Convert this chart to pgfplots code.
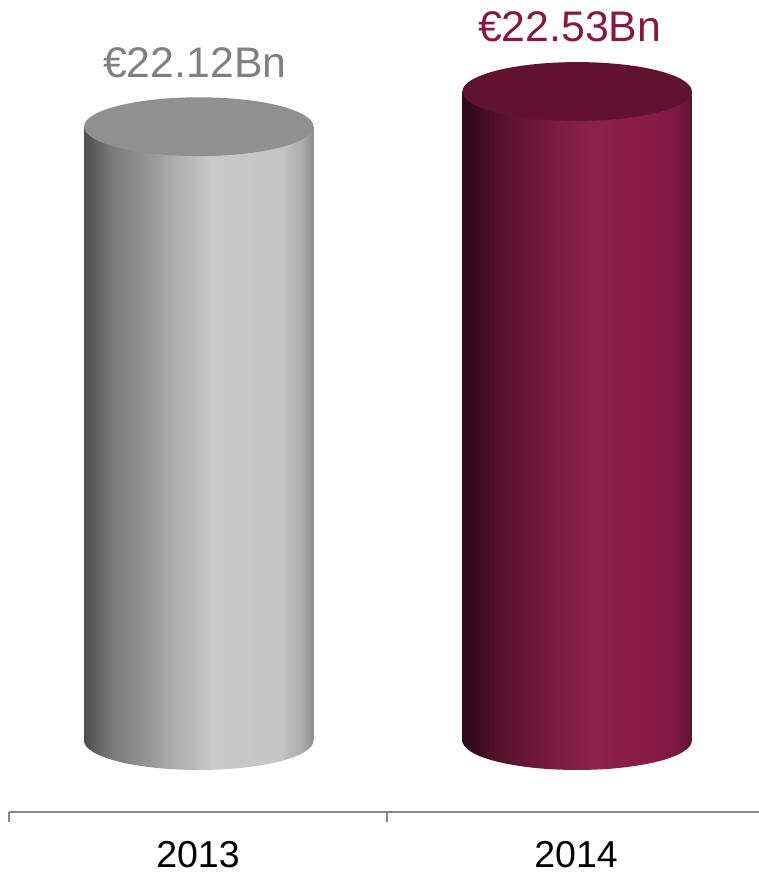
\documentclass[border=0pt]{standalone}
\usepackage{pgfplots}
\pgfplotsset{compat=1.18}
\usepackage{fontspec}
\setmainfont{Liberation Sans}

\definecolor{axisgray}{HTML}{868686}
\definecolor{graylabel}{HTML}{808080}
\definecolor{winelabel}{HTML}{85193F}
\definecolor{graytop}{HTML}{909090}
\definecolor{winetop}{HTML}{621231}

% Cylinder walls: stops 25bp..75bp span the width of the shaded path
\pgfdeclarehorizontalshading{graywall}{100bp}{
  color(0bp)=(black!70!white);
  color(25bp)=(black!70!white);
  color(31bp)=(black!52!white);
  color(38bp)=(black!43!white);
  color(45bp)=(black!31!white);
  color(49bp)=(black!27!white);
  color(52.5bp)=(black!21!white);
  color(68bp)=(black!23!white);
  color(72.5bp)=(black!33!white);
  color(75bp)=(black!45!white);
  color(100bp)=(black!45!white)}
\definecolor{w0}{HTML}{2F0A19}
\definecolor{w1}{HTML}{4C1028}
\definecolor{w2}{HTML}{661533}
\definecolor{w3}{HTML}{791B3F}
\definecolor{w4}{HTML}{8A2248}
\definecolor{w5}{HTML}{881B45}
\definecolor{w6}{HTML}{7A183F}
\definecolor{w7}{HTML}{5C1231}
\pgfdeclarehorizontalshading{winewall}{100bp}{
  color(0bp)=(w0);
  color(26.5bp)=(w0);
  color(31bp)=(w1);
  color(38bp)=(w2);
  color(45bp)=(w3);
  color(53bp)=(w4);
  color(66bp)=(w5);
  color(72bp)=(w6);
  color(75bp)=(w7);
  color(100bp)=(w7)}

% Elliptical caps of the cylinders
\newcommand{\capellipse}{\pgfpathellipse{\pgfpointorigin}{\pgfqpoint{114.7bp}{0pt}}{\pgfqpoint{0pt}{29.4bp}}}
\pgfdeclareplotmark{graybase}{\capellipse\pgfshadepath{graywall}{0}\pgfusepath{discard}}
\pgfdeclareplotmark{winebase}{\capellipse\pgfshadepath{winewall}{0}\pgfusepath{discard}}
\pgfdeclareplotmark{captop}{\capellipse\pgfusepathqfill}

\begin{document}
\begin{tikzpicture}[x=1bp,y=1bp]
\path[use as bounding box,fill=white] (0,0) rectangle (759,872);
\begin{axis}[
  at={(9bp,60bp)},anchor=south west,
  scale only axis,width=750bp,height=812bp,
  clip=false,
  xmin=0,xmax=1.98413,
  y coord trafo/.code={\pgfmathparse{#1-14.97}},
  ymin=14.138,ymax=23.596,
  axis y line=none,
  axis x line*=bottom,
  axis line style={-,axisgray,line width=1.4bp},
  x axis line style={-},
  xtick={0,1},xticklabels={},
  major tick length=10bp,
  tick align=outside,
  tick style={axisgray,line width=1.2bp},
  extra x ticks={0.5,1.5},
  extra x tick labels={2013,2014},
  extra x tick style={major tick length=0pt,
    tick label style={anchor=base,inner sep=0pt,yshift=-55.5bp,font=\fontsize{37.5bp}{44bp}\selectfont,text=black}},
]
% Base ellipses sit under the walls
\addplot[only marks,mark=graybase] coordinates {(0.502,14.97)};
\addplot[only marks,mark=winebase] coordinates {(1.503,14.97)};
% Walls
\addplot[ybar,bar shift=0pt,bar width=229.4bp,draw=none,shading=graywall] coordinates {(0.502,22.12)};
\addplot[ybar,bar shift=0pt,bar width=229.4bp,draw=none,shading=winewall] coordinates {(1.503,22.53)};
% Top faces
\addplot[only marks,mark=captop,mark options={draw=none,fill=graytop}] coordinates {(0.502,22.12)};
\addplot[only marks,mark=captop,mark options={draw=none,fill=winetop}] coordinates {(1.503,22.53)};
% Value labels
\node[anchor=base,text=graylabel,font=\fontsize{42.8bp}{50bp}\selectfont,xshift=-4bp,yshift=49.5bp] at (axis cs:0.502,22.12) {€22.12Bn};
\node[anchor=base,text=winelabel,font=\fontsize{42.8bp}{50bp}\selectfont,xshift=-7.5bp,yshift=50bp] at (axis cs:1.503,22.53) {€22.53Bn};
\end{axis}
\end{tikzpicture}
\end{document}
